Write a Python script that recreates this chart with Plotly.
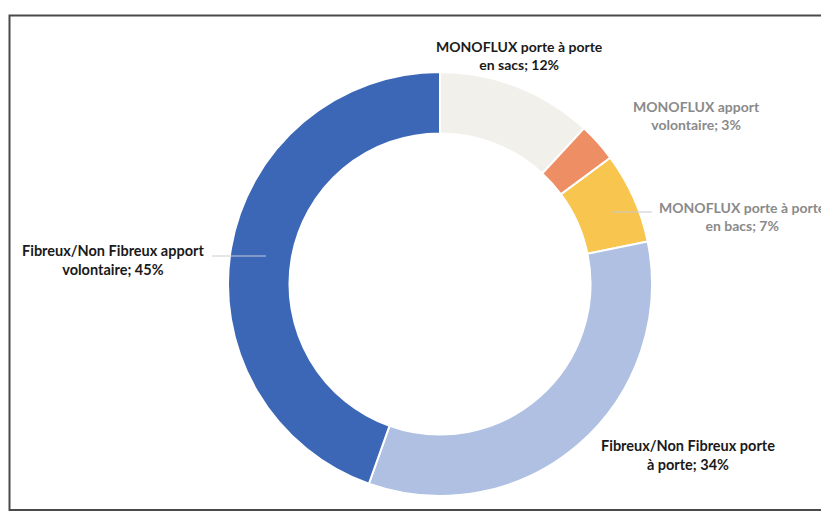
import plotly.graph_objects as go

W, H = 829, 512
OFF = 8  # page body margin in the browser

categories = [
    "MONOFLUX porte à porte en sacs",
    "MONOFLUX apport volontaire",
    "MONOFLUX porte à porte en bacs",
    "Fibreux/Non Fibreux porte à porte",
    "Fibreux/Non Fibreux apport volontaire",
]
values = [12, 3, 7, 34, 45]
label_lines = [
    ("MONOFLUX porte à porte", "en sacs"),
    ("MONOFLUX apport", "volontaire"),
    ("MONOFLUX porte à porte", "en bacs"),
    ("Fibreux/Non Fibreux porte", "à porte"),
    ("Fibreux/Non Fibreux apport", "volontaire"),
]
colors = ["#F2F0EA", "#EE8E64", "#F8C54E", "#AFC0E2", "#3B67B6"]
label_colors = ["#1a1a1a", "#8a8a8a", "#8a8a8a", "#1a1a1a", "#1a1a1a"]
label_sizes = [14, 14, 14, 14.5, 14.5]
# label centers in screen pixels (x, y from top)
label_pos = [(520, 55), (696, 115), (742, 216), (688, 455), (113, 260)]

# donut geometry (screen pixels)
cx, cy, R = 440, 284, 212


def px(x):
    return (x - OFF) / W


def py(y):
    return 1 - (y - OFF) / H


fig = go.Figure(go.Pie(
    labels=categories,
    values=values,
    hole=0.71,
    sort=False,
    direction="clockwise",
    rotation=0,
    marker=dict(colors=colors, line=dict(color="white", width=2)),
    textinfo="none",
    hoverinfo="label+percent",
    showlegend=False,
    domain=dict(x=[px(cx - R), px(cx + R)], y=[py(cy + R), py(cy - R)]),
))

annotations = []
for (l1, l2), v, col, fs, (lx, ly) in zip(label_lines, values, label_colors, label_sizes, label_pos):
    annotations.append(dict(
        x=px(lx), y=py(ly), xref="paper", yref="paper",
        xanchor="center", yanchor="middle",
        text=f"<b>{l1}<br>{l2}; {v}%</b>",
        showarrow=False, align="center",
        font=dict(family="Lato, Calibri, sans-serif", size=fs, color=col),
    ))

shapes = [
    # frame
    dict(type="rect", xref="paper", yref="paper",
         x0=px(9.5), x1=px(845), y0=py(510), y1=py(15.5),
         line=dict(color="#4a4a4a", width=2)),
    # leader lines
    dict(type="line", xref="paper", yref="paper",
         x0=px(212), x1=px(266), y0=py(256), y1=py(256),
         line=dict(color="#c8ccd8", width=1)),
    dict(type="line", xref="paper", yref="paper",
         x0=px(612), x1=px(652), y0=py(212), y1=py(212),
         line=dict(color="#c8c8d0", width=1)),
]

fig.update_layout(
    width=W, height=H,
    margin=dict(l=0, r=0, t=0, b=0),
    paper_bgcolor="white",
    plot_bgcolor="white",
    annotations=annotations,
    shapes=shapes,
)

fig.write_html("out.html")
